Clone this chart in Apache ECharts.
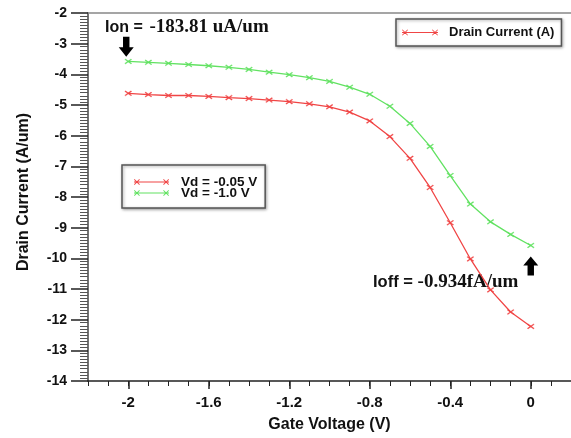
<!DOCTYPE html>
<html>
<head>
<meta charset="utf-8">
<script src="https://cdn.jsdelivr.net/npm/echarts@6/dist/echarts.min.js"></script>
<style>
html,body{margin:0;padding:0;background:#fff;}
#chart{width:571px;height:438px;}
</style>
</head>
<body>
<div id="chart"></div>
<script>
// ---- data (log10 of drain current, A/um) ----
var gateVoltage = [-2.0,-1.9,-1.8,-1.7,-1.6,-1.5,-1.4,-1.3,-1.2,-1.1,-1.0,-0.9,-0.8,-0.7,-0.6,-0.5,-0.4,-0.3,-0.2,-0.1,0.0];
var vd005 = [-4.62,-4.66,-4.69,-4.69,-4.72,-4.76,-4.79,-4.84,-4.89,-4.96,-5.06,-5.23,-5.52,-6.03,-6.74,-7.69,-8.84,-10.02,-11.03,-11.75,-12.22];
var vd10  = [-3.58,-3.61,-3.64,-3.68,-3.72,-3.77,-3.84,-3.93,-4.01,-4.11,-4.23,-4.42,-4.65,-5.04,-5.60,-6.35,-7.30,-8.23,-8.81,-9.22,-9.58];
var xMajorTicks = [-2,-1.6,-1.2,-0.8,-0.4,0];
var seriesNames = ['Vd = -0.05 V','Vd = -1.0 V'];
var legendTitle = 'Drain Current (A)';
var ionText = '-183.81 uA/um';
var ioffText = '-0.934fA/um';

var RED = '#f04545';
var GREEN = '#62e262';
var SANS = '"Liberation Sans", Arial, sans-serif';
var SERIF = '"Liberation Serif", "Times New Roman", serif';

var crossSym = 'path://M0,0.7L0.7,0L6,5.3L5.3,6ZM0,5.3L5.3,0L6,0.7L0.7,6Z';
var legendIcon = 'path://M0,4.6H36V5.4H0ZM0,2.6L0.6,2L6,7.4L5.4,8ZM0,7.4L5.4,2L6,2.6L0.6,8ZM30,2.6L30.6,2L36,7.4L35.4,8ZM30,7.4L35.4,2L36,2.6L30.6,8Z';
var downArrow = 'path://M4,0L10,0L10,10L14,10L7,19L0,10L4,10Z';
var upArrow = 'path://M7,0L14,9L10,9L10,19L4,19L4,9L0,9Z';

function pairs(xs, ys){ return xs.map(function(x,i){ return [x, ys[i]]; }); }

var chart = echarts.init(document.getElementById('chart'), null, {renderer:'canvas'});
var option = {
  backgroundColor:'#fff',
  animation:false,
  grid:{left:88, top:13, width:486, height:371, containLabel:false},
  legend:[
    {
      data:[{name:legendTitle, icon:legendIcon}],
      left:396, top:19, orient:'horizontal',
      selectedMode:false,
      itemWidth:36, itemHeight:6, itemGap:0,
      itemStyle:{borderWidth:0},
      padding:[7,7,7,6],
      borderColor:'#555', borderWidth:1.5, backgroundColor:'#fff',
      shadowColor:'rgba(0,0,0,0.35)', shadowBlur:3, shadowOffsetX:1, shadowOffsetY:1,
      textStyle:{fontFamily:SANS, fontWeight:'bold', fontSize:13, color:'#111', lineHeight:13, padding:[0,0,0,6]}
    },
    {
      data:[{name:seriesNames[0], icon:legendIcon},{name:seriesNames[1], icon:legendIcon}],
      left:122, top:165, orient:'vertical',
      selectedMode:false,
      itemWidth:35, itemHeight:6, itemGap:-3,
      itemStyle:{borderWidth:0},
      padding:[10,8,8,12],
      borderColor:'#555', borderWidth:1.5, backgroundColor:'#fff',
      shadowColor:'rgba(0,0,0,0.35)', shadowBlur:3, shadowOffsetX:1, shadowOffsetY:1,
      textStyle:{fontFamily:SANS, fontWeight:'bold', fontSize:13.5, color:'#111', lineHeight:11, padding:[0,0,0,7]}
    }
  ],
  xAxis:[
    {
      type:'value', position:'bottom', min:-2.2, max:0.2, interval:0.1,
      name:'Gate Voltage (V)', nameLocation:'middle', nameGap:36,
      nameTextStyle:{fontFamily:SANS, fontWeight:'bold', fontSize:16, color:'#111'},
      axisLine:{show:true, onZero:false, lineStyle:{color:'#222', width:1.5}},
      axisTick:{show:true, length:5, lineStyle:{color:'#222', width:1}},
      axisLabel:{show:false},
      splitLine:{show:false}
    },
    {
      type:'value', position:'bottom', min:-2.2, max:0.2,
      axisLine:{show:false, onZero:false},
      axisTick:{show:true, length:8, customValues:xMajorTicks, lineStyle:{color:'#222', width:1.5}},
      axisLabel:{show:true, customValues:xMajorTicks, margin:14,
        fontFamily:SANS, fontWeight:'bold', fontSize:15, color:'#111',
        formatter:function(v){ return String(Math.round(v*10)/10); }},
      splitLine:{show:false}
    },
    {
      type:'value', position:'top', min:-2.2, max:0.2,
      axisLine:{show:true, onZero:false, lineStyle:{color:'#888', width:1.5}},
      axisTick:{show:false}, axisLabel:{show:false}, splitLine:{show:false}
    }
  ],
  yAxis:[
    {
      type:'value', min:-14, max:-2, interval:1,
      name:'Drain Current (A/um)', nameLocation:'middle', nameGap:56,
      nameTextStyle:{fontFamily:SANS, fontWeight:'bold', fontSize:16, color:'#111', padding:[0,0,0,10]},
      axisLine:{show:true, onZero:false, lineStyle:{color:'#444', width:1.5}},
      axisTick:{show:true, length:17, lineStyle:{color:'#222', width:1.5}},
      minorTick:{show:true, splitNumber:10, length:8, lineStyle:{color:'#555', width:1}},
      axisLabel:{margin:21, fontFamily:SANS, fontWeight:'bold', fontSize:14, color:'#111'},
      splitLine:{show:false}
    }
  ],
  graphic:[
    {
      type:'text', left:105, top:18, silent:true,
      style:{
        text:'{a|Ion =}  {b|' + ionText + '}',
        rich:{
          a:{fontFamily:SANS, fontWeight:'bold', fontSize:16, fill:'#111'},
          b:{fontFamily:SERIF, fontWeight:'bold', fontSize:19, fill:'#111'}
        }
      }
    },
    {
      type:'text', left:373, top:273, silent:true,
      style:{
        text:'{a|Ioff =}{b| ' + ioffText + '}',
        rich:{
          a:{fontFamily:SANS, fontWeight:'bold', fontSize:16.5, fill:'#111'},
          b:{fontFamily:SERIF, fontWeight:'bold', fontSize:19, fill:'#111'}
        }
      }
    }
  ],
  series:[
    {
      name:legendTitle, type:'line', data:[], xAxisIndex:0, yAxisIndex:0,
      itemStyle:{color:RED}, lineStyle:{color:RED}
    },
    {
      name:seriesNames[0], type:'line', xAxisIndex:0, yAxisIndex:0,
      data:pairs(gateVoltage, vd005),
      symbol:crossSym, symbolSize:[7,5], showAllSymbol:true,
      lineStyle:{color:RED, width:1.3},
      itemStyle:{color:RED, borderColor:RED, borderWidth:0.3},
      z:3
    },
    {
      name:seriesNames[1], type:'line', xAxisIndex:0, yAxisIndex:0,
      data:pairs(gateVoltage, vd10),
      symbol:crossSym, symbolSize:[7,5], showAllSymbol:true,
      lineStyle:{color:GREEN, width:1.3},
      itemStyle:{color:GREEN, borderColor:GREEN, borderWidth:0.3},
      z:3,
      markPoint:{
        silent:true,
        label:{show:false},
        data:[
          {coord:[-2.01,-3.1], symbol:downArrow, symbolSize:[15,20], itemStyle:{color:'#000', borderWidth:0}},
          {coord:[0.0,-10.25], symbol:upArrow, symbolSize:[15,19], itemStyle:{color:'#000', borderWidth:0}}
        ]
      }
    }
  ]
};
chart.setOption(option);
</script>
</body>
</html>
